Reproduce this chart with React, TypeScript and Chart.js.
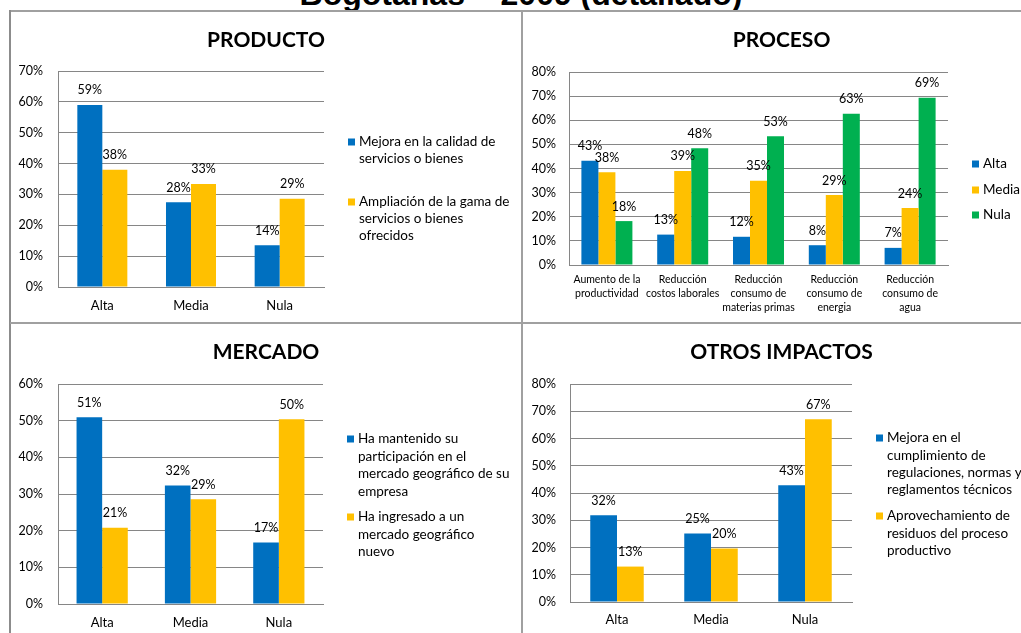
import React, { useEffect, useRef } from "react";
import { Chart, registerables } from "chart.js";

Chart.register(...registerables);

const BLUE = "#0070C0";
const YELLOW = "#FFC000";
const GREEN = "#00B050";
const FONT = "Lato";

// ---------- Data ----------
const mainTitle = "Bogotanas – 2009 (detallado)";

const productoTitle = "PRODUCTO";
const productoCategories = ["Alta", "Media", "Nula"];
const productoMejora = [59, 27.5, 13.5];
const productoAmpliacion = [38, 33.4, 28.6];
const productoMejoraName = ["Mejora en la calidad de", "servicios o bienes"];
const productoAmpliacionName = ["Ampliación de la gama de", "servicios o bienes", "ofrecidos"];
const productoMax = 70;

const procesoTitle = "PROCESO";
const procesoCategories = [
  ["Aumento de la", "productividad"],
  ["Reducción", "costos laborales"],
  ["Reducción", "consumo de", "materias primas"],
  ["Reducción", "consumo de", "energia"],
  ["Reducción", "consumo de", "agua"],
];
const procesoAlta = [43.2, 12.6, 11.7, 8.2, 7.1];
const procesoMedia = [38.4, 39, 34.9, 29, 23.6];
const procesoNula = [18.2, 48.4, 53.4, 62.7, 69.3];
const procesoMax = 80;

const mercadoTitle = "MERCADO";
const mercadoCategories = ["Alta", "Media", "Nula"];
const mercadoMantenido = [50.9, 32.3, 16.8];
const mercadoIngresado = [20.8, 28.6, 50.4];
const mercadoMantenidoName = ["Ha mantenido su", "participación en el", "mercado geográfico de su", "empresa"];
const mercadoIngresadoName = ["Ha ingresado a un", "mercado geográfico", "nuevo"];
const mercadoMax = 60;

const otrosTitle = "OTROS IMPACTOS";
const otrosCategories = ["Alta", "Media", "Nula"];
const otrosCumplimiento = [31.8, 25.1, 42.8];
const otrosResiduos = [13, 19.6, 67.1];
const otrosCumplimientoName = ["Mejora en el", "cumplimiento de", "regulaciones, normas y", "reglamentos técnicos"];
const otrosResiduosName = ["Aprovechamiento de", "residuos del proceso", "productivo"];
const otrosMax = 80;

// ---------- Plugins ----------
const barLabelsPlugin = {
  id: "barLabels",
  afterDatasetsDraw(chart: any) {
    const ctx = chart.ctx;
    ctx.save();
    ctx.font = `12.5px ${FONT}`;
    ctx.fillStyle = "#000";
    ctx.textAlign = "center";
    ctx.textBaseline = "middle";
    chart.data.datasets.forEach((ds: any, i: number) => {
      const meta = chart.getDatasetMeta(i);
      meta.data.forEach((el: any, j: number) => {
        const v = ds.data[j];
        ctx.fillText(Math.round(v) + "%", el.x, el.y - 14.5);
      });
    });
    ctx.restore();
  },
};

const sideLegendPlugin = {
  id: "sideLegend",
  afterDraw(chart: any, _args: any, opts: any) {
    const ctx = chart.ctx;
    ctx.save();
    ctx.font = `${opts.fontSize}px ${FONT}`;
    ctx.textBaseline = "middle";
    ctx.textAlign = "left";
    chart.data.datasets.forEach((ds: any, i: number) => {
      const y0 = opts.itemY[i];
      ctx.fillStyle = ds.backgroundColor;
      ctx.fillRect(opts.x, y0 - 3.5, 7, 7);
      ctx.fillStyle = "#000";
      (ds.legendLines as string[]).forEach((line, k) => {
        ctx.fillText(line, opts.x + 11, y0 + k * opts.lineHeight);
      });
    });
    ctx.restore();
  },
};

type Panel = {
  title: string;
  categories: (string | string[])[];
  series: { lines: string[]; values: number[]; color: string }[];
  max: number;
  left: number;
  top: number;
  width: number;
  height: number;
  yAxisWidth: number;
  xAxisHeight: number;
  padRight: number;
  titleTop: number;
  titleBottom: number;
  tickPad: number;
  xTickPad: number;
  xFontSize: number;
  xLineHeight: number;
  catPct: number;
  legendX: number;
  legendY: number[];
  legendLineH: number;
};

const panels: Panel[] = [
  {
    title: productoTitle,
    categories: productoCategories,
    series: [
      { lines: productoMejoraName, values: productoMejora, color: BLUE },
      { lines: productoAmpliacionName, values: productoAmpliacion, color: YELLOW },
    ],
    max: productoMax,
    left: 10, top: 11, width: 512, height: 312,
    yAxisWidth: 48, xAxisHeight: 36, padRight: 198,
    titleTop: 17, titleBottom: 19,
    tickPad: 15, xTickPad: 11, xFontSize: 13, xLineHeight: 15.6,
    catPct: 0.564,
    legendX: 338, legendY: [131, 191], legendLineH: 17,
  },
  {
    title: procesoTitle,
    categories: procesoCategories,
    series: [
      { lines: ["Alta"], values: procesoAlta, color: BLUE },
      { lines: ["Media"], values: procesoMedia, color: YELLOW },
      { lines: ["Nula"], values: procesoNula, color: GREEN },
    ],
    max: procesoMax,
    left: 522, top: 11, width: 519, height: 312,
    yAxisWidth: 47, xAxisHeight: 58, padRight: 93,
    titleTop: 17, titleBottom: 20,
    tickPad: 13, xTickPad: 8, xFontSize: 10.5, xLineHeight: 14,
    catPct: 0.673,
    legendX: 450, legendY: [153, 179, 204], legendLineH: 17,
  },
  {
    title: mercadoTitle,
    categories: mercadoCategories,
    series: [
      { lines: mercadoMantenidoName, values: mercadoMantenido, color: BLUE },
      { lines: mercadoIngresadoName, values: mercadoIngresado, color: YELLOW },
    ],
    max: mercadoMax,
    left: 10, top: 323, width: 512, height: 320,
    yAxisWidth: 48, xAxisHeight: 39, padRight: 199,
    titleTop: 17, titleBottom: 20,
    tickPad: 15, xTickPad: 11, xFontSize: 13, xLineHeight: 15.6,
    catPct: 0.58,
    legendX: 337, legendY: [116, 194], legendLineH: 17.5,
  },
  {
    title: otrosTitle,
    categories: otrosCategories,
    series: [
      { lines: otrosCumplimientoName, values: otrosCumplimiento, color: BLUE },
      { lines: otrosResiduosName, values: otrosResiduos, color: YELLOW },
    ],
    max: otrosMax,
    left: 522, top: 323, width: 519, height: 320,
    yAxisWidth: 48, xAxisHeight: 41, padRight: 189,
    titleTop: 17, titleBottom: 20,
    tickPad: 14, xTickPad: 10.5, xFontSize: 13, xLineHeight: 15.6,
    catPct: 0.569,
    legendX: 354, legendY: [115, 193], legendLineH: 17.3,
  },
];

function makeConfig(p: Panel): any {
  return {
    type: "bar",
    data: {
      labels: p.categories,
      datasets: p.series.map((s) => ({
        label: s.lines.join(" "),
        legendLines: s.lines,
        data: s.values,
        backgroundColor: s.color,
        borderWidth: 0,
        categoryPercentage: p.catPct,
        barPercentage: 1,
        yAxisID: "y",
      })),
    },
    options: {
      animation: false,
      responsive: false,
      maintainAspectRatio: false,
      layout: { padding: 0 },
      plugins: {
        legend: { display: false },
        tooltip: { enabled: false },
        title: {
          display: true,
          text: p.title,
          color: "#000",
          font: { family: FONT, size: 21, weight: "bold", lineHeight: 24 / 21 },
          padding: { top: p.titleTop, bottom: p.titleBottom },
        },
        sideLegend: { x: p.legendX, itemY: p.legendY, lineHeight: p.legendLineH, fontSize: 13.5 },
      },
      scales: {
        x: {
          grid: { display: false, drawTicks: false },
          border: { display: true, color: "#868686", width: 1 },
          ticks: {
            color: "#000",
            font: { family: FONT, size: p.xFontSize, lineHeight: p.xLineHeight / p.xFontSize },
            padding: p.xTickPad,
            maxRotation: 0,
            minRotation: 0,
            autoSkip: false,
          },
          afterFit: (s: any) => {
            s.height = p.xAxisHeight;
          },
        },
        y: {
          min: 0,
          max: p.max,
          grid: { color: "#868686", drawTicks: false, lineWidth: 1 },
          border: { display: true, color: "#868686", width: 1 },
          ticks: {
            stepSize: 10,
            color: "#000",
            font: { family: FONT, size: 12.5 },
            padding: p.tickPad,
            callback: (v: any) => v + "%",
          },
          afterFit: (s: any) => {
            s.width = p.yAxisWidth;
          },
        },
        // empty right-side axis that reserves the room used by the legend
        legendSpace: {
          type: "linear",
          position: "right",
          display: true,
          min: 0,
          max: p.max,
          grid: { display: false, drawTicks: false },
          border: { display: false },
          ticks: { display: false },
          afterFit: (s: any) => {
            s.width = p.padRight;
          },
        },
      },
    },
    plugins: [barLabelsPlugin, sideLegendPlugin],
  };
}

function ChartPanel({ p }: { p: Panel }) {
  const ref = useRef<HTMLCanvasElement | null>(null);
  useEffect(() => {
    if (!ref.current) return;
    const chart = new Chart(ref.current, makeConfig(p));
    return () => chart.destroy();
  }, [p]);
  return (
    <canvas
      ref={ref}
      width={p.width}
      height={p.height}
      style={{ position: "absolute", left: p.left, top: p.top, width: p.width, height: p.height }}
    />
  );
}

const lineColor = "#a0a0a0";

export default function App() {
  return (
    <div
      style={{
        position: "fixed",
        left: 0,
        top: 0,
        width: 1021,
        height: 633,
        overflow: "hidden",
        background: "#fff",
        fontFamily: FONT,
      }}
    >
      <div
        style={{
          position: "absolute",
          left: 0,
          top: -22,
          width: 1042,
          textAlign: "center",
          fontFamily: "'Liberation Sans', Arial, sans-serif",
          fontWeight: "bold",
          fontSize: 32,
          lineHeight: "32px",
          color: "#000",
          whiteSpace: "nowrap",
        }}
      >
        {mainTitle}
      </div>
      {panels.map((p, i) => (
        <ChartPanel key={i} p={p} />
      ))}
      {/* panel frames */}
      <div style={{ position: "absolute", left: 10, top: 10, width: 1100, height: 2, background: lineColor }} />
      <div style={{ position: "absolute", left: 9, top: 10, width: 2, height: 700, background: "#8c8c8c" }} />
      <div style={{ position: "absolute", left: 521, top: 10, width: 2, height: 700, background: lineColor }} />
      <div style={{ position: "absolute", left: 10, top: 322, width: 1100, height: 2, background: lineColor }} />
    </div>
  );
}
